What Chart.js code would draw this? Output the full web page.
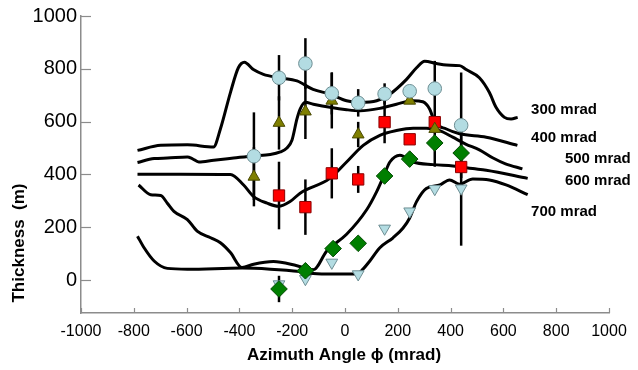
<!DOCTYPE html>
<html><head><meta charset="utf-8">
<script src="https://cdn.jsdelivr.net/npm/chart.js@4.4.1/dist/chart.umd.min.js"></script>
<style>html,body{margin:0;padding:0;background:#fff}#wrap{width:638px;height:370px}</style>
</head><body><div id="wrap"><canvas id="c" width="638" height="370"></canvas></div>
<script>
// ---- tick labels / titles ----
const xTicks = [-1000,-800,-600,-400,-200,0,200,400,600,800,1000];
const yTicks = [0,200,400,600,800,1000];
const xTitle = 'Azimuth Angle \u03D5 (mrad)';
const yTitle = 'Thickness  (m)';
const curveNames = ['300 mrad','400 mrad','500 mrad','600 mrad','700 mrad'];

// ---- model curves (azimuth mrad, thickness m) ----
const c300X = [-786,-698,-597,-498,-472,-434,-404,-381,-347,-309,-248,-182,-121,-57,6,57,120,170,233,271,302,346,384,434,459,509,547,572,604,629,654];
const c300Y = [491,510,512,504,572,710,804,825,797,779,766,754,722,704,679,673,679,704,760,804,829,820,814,812,797,766,710,654,616,610,616];
const c400X = [-786,-723,-673,-597,-579,-554,-497,-422,-346,-283,-245,-220,-201,-182,-170,-151,-120,-57,6,57,132,195,258,295,321,340,384,434,535,653];
const c400Y = [445,460,462,466,460,447,454,462,470,475,485,500,529,610,647,673,666,654,645,641,650,666,679,675,647,598,572,554,541,510];
const c500X = [-786,-623,-434,-384,-346,-295,-252,-208,-170,-57,6,69,132,195,258,308,359,408,457,509,559,608,672];
const c500Y = [401,401,400,360,316,291,279,297,329,385,447,510,548,566,575,575,566,541,515,493,463,440,421];
const c600X = [-782,-736,-698,-673,-648,-597,-560,-509,-472,-434,-390,-346,-271,-182,-120,-69,6,82,120,147,170,208,258,333,409,484,535,692];
const c600Y = [360,323,320,291,260,229,185,160,141,104,47,60,70,54,39,110,173,266,335,395,447,473,447,437,432,422,416,385];
const c700X = [-786,-761,-723,-673,-597,-390,-283,-170,-120,-44,44,69,94,132,182,220,245,271,308,359,396,434,484,547,610,692];
const c700Y = [166,122,72,44,41,45,41,32,25,23,23,42,72,122,160,197,235,297,347,360,379,363,383,379,360,323];

// ---- measurements ----
const m300X = [-345,-250,-150,-50,50,150,245,340,440];
const m300Y = [469,766,820,707,671,705,715,725,586];
const m300E = [166,86,96,80,52,40,0,105,200];
const m400X = [-345,-250,-150,-50,50,245,340];
const m400Y = [391,595,638,679,551,679,572];
const m400E = [112,101,104,105,48,0,0];
const m500X = [-250,-150,-50,50,150,245,340,440];
const m500Y = [320,276,404,381,598,533,598,428];
const m500E = [128,105,95,51,80,0,0,0];
const m600X = [-250,-150,-45,50,150,245,340,440];
const m600Y = [-34,35,119,139,394,458,519,481];
const m600E = [50,0,0,0,0,0,90,0];
const m700X = [-250,-150,-50,50,150,245,340,440];
const m700Y = [-16,4,66,22,195,260,345,347];
const m700E = [0,0,0,0,0,0,0,217];

// ---- layout (not data) ----
const labelAnchors = [[705,645],[705,538],[833,460],[833,375],[705,260]];
const FONT = "'Liberation Sans', Arial, sans-serif";

const pts = (xs, ys) => xs.map((v,i)=>({x:v, y:ys[i]}));
const curve = (xs, ys) => ({type:'line', data:pts(xs,ys), showLine:true, borderColor:'#000', borderWidth:3,
  pointRadius:0, cubicInterpolationMode:'monotone', fill:false, order:2});
const marks = (xs, ys, errs, style, r, bg, bd, rot) => ({type:'scatter', data:pts(xs,ys), errs:errs,
  pointStyle:style, pointRadius:r, pointHoverRadius:r, rotation:rot||0, backgroundColor:bg, borderColor:bd, borderWidth:1, order:0});

const datasets = [
  curve(c300X,c300Y), curve(c400X,c400Y), curve(c500X,c500Y), curve(c600X,c600Y), curve(c700X,c700Y),
  marks(m300X,m300Y,m300E,'circle',6.8,'#b3dce2','#6f8f94'),
  marks(m400X,m400Y,m400E,'triangle',6.8,'#7f7f00','#4a4a00'),
  marks(m500X,m500Y,m500E,'rect',8,'#ff0000','#8a0000'),
  marks(m600X,m600Y,m600E,'rectRot',8.3,'#007f00','#004a00'),
  marks(m700X,m700Y,m700E,'triangle',6.8,'#b3dce2','#6f8f94',180)
];

const deco = {
  id:'deco',
  beforeDatasetsDraw(chart){
    const {ctx, scales:{x,y}} = chart;
    ctx.save();
    ctx.strokeStyle = '#000'; ctx.lineWidth = 2.5; ctx.lineCap = 'butt';
    chart.data.datasets.forEach(ds => {
      if (!ds.errs) return;
      ds.data.forEach((p,i) => {
        const e = ds.errs[i]; if (!e) return;
        const px = x.getPixelForValue(p.x);
        ctx.beginPath();
        ctx.moveTo(px, y.getPixelForValue(p.y - e));
        ctx.lineTo(px, y.getPixelForValue(p.y + e));
        ctx.stroke();
      });
    });
    ctx.restore();
  },
  afterDraw(chart){
    const {ctx, scales:{x,y}, chartArea:a} = chart;
    ctx.save();
    ctx.strokeStyle = '#8c8c8c'; ctx.lineWidth = 1.2;
    yTicks.forEach(v => { const py = Math.round(y.getPixelForValue(v))+0.5;
      ctx.beginPath(); ctx.moveTo(a.left, py); ctx.lineTo(a.left+10, py); ctx.stroke(); });
    xTicks.forEach(v => { const px = Math.round(x.getPixelForValue(v))+0.5;
      ctx.beginPath(); ctx.moveTo(px, a.bottom); ctx.lineTo(px, a.bottom-5); ctx.stroke(); });
    ctx.fillStyle = '#000';
    ctx.font = 'bold 17px ' + FONT;
    ctx.textAlign = 'center'; ctx.textBaseline = 'middle';
    ctx.fillText(xTitle, 344, 355);
    ctx.save(); ctx.translate(19, 243); ctx.rotate(-Math.PI/2); ctx.fillText(yTitle, 0, 0); ctx.restore();
    ctx.font = 'bold 15px ' + FONT; ctx.textAlign = 'left';
    curveNames.forEach((t,i) => {
      ctx.fillText(t, x.getPixelForValue(labelAnchors[i][0]), y.getPixelForValue(labelAnchors[i][1]));
    });
    ctx.restore();
  }
};

new Chart(document.getElementById('c'), {
  type:'scatter',
  data:{datasets},
  options:{
    responsive:false, animation:false, devicePixelRatio:1,
    layout:{padding:{top:13, right:29, left:0, bottom:0}},
    plugins:{legend:{display:false}, tooltip:{enabled:false}},
    scales:{
      x:{type:'linear', min:-1000, max:1000,
        afterBuildTicks:s=>{s.ticks = xTicks.map(v=>({value:v}));},
        afterFit:s=>{s.height = 57;},
        grid:{drawOnChartArea:false, drawTicks:false},
        border:{color:'#8c8c8c', width:1.5},
        ticks:{color:'#000', font:{size:16, family:FONT}, padding:9, maxRotation:0, callback:v=>String(v)}},
      y:{type:'linear', min:-125, max:1000,
        afterBuildTicks:s=>{s.ticks = yTicks.map(v=>({value:v}));},
        afterFit:s=>{s.width = 81;},
        grid:{drawOnChartArea:false, drawTicks:false},
        border:{color:'#8c8c8c', width:1.5},
        ticks:{color:'#000', font:{size:20, family:FONT}, padding:4, callback:v=>String(v)}}
    }
  },
  plugins:[deco]
});
</script></body></html>
